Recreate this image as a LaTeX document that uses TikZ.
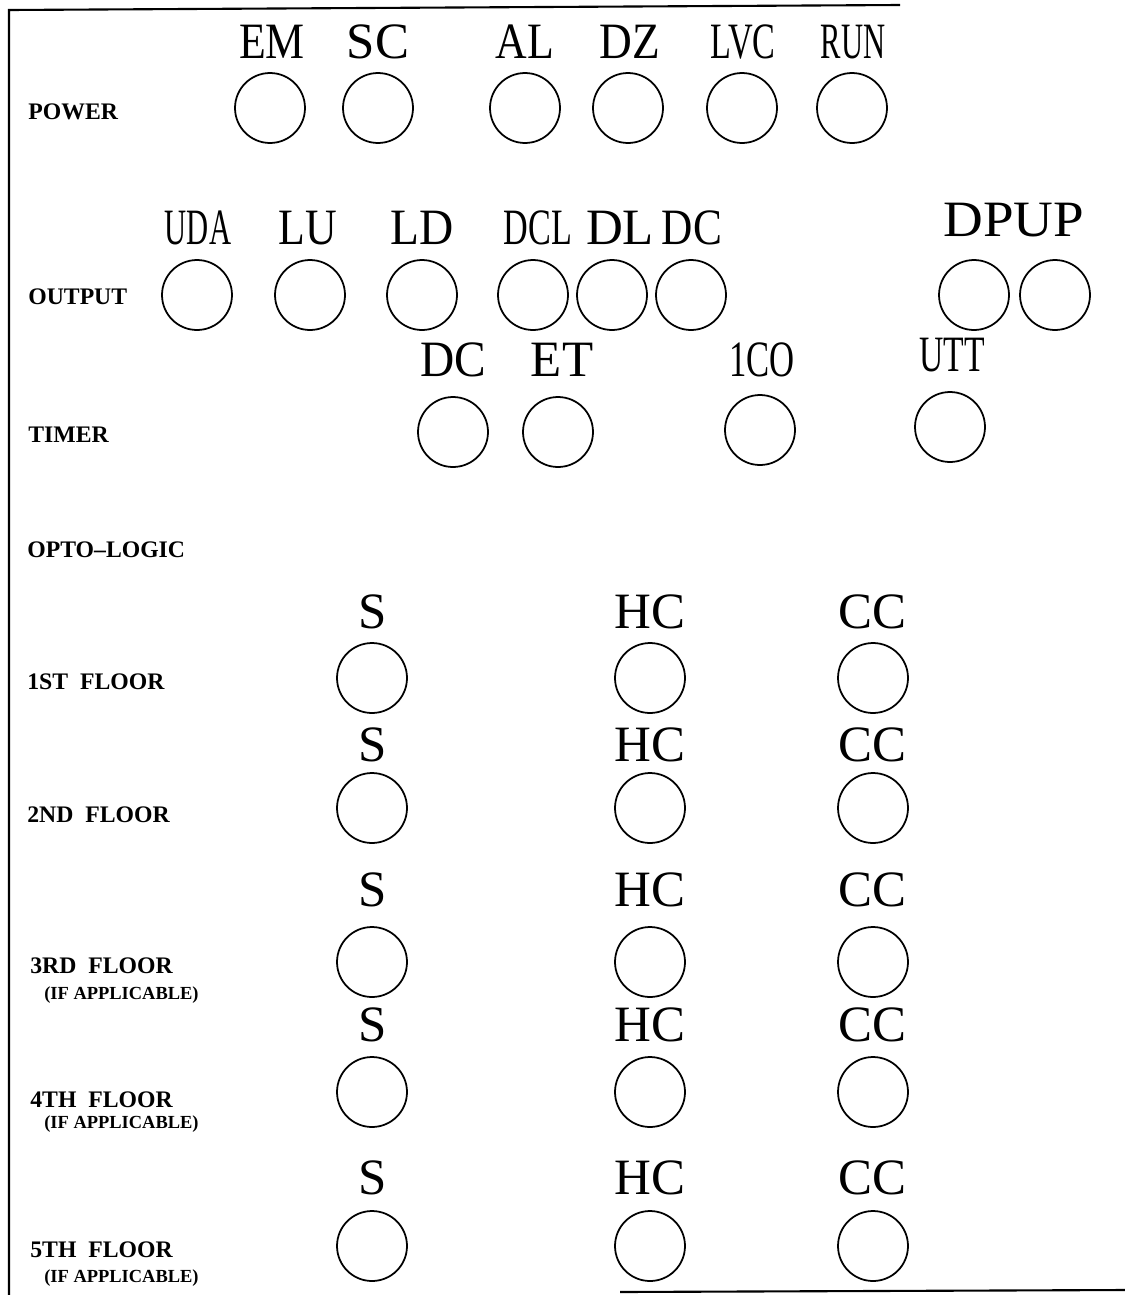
\documentclass[tikz,border=0pt]{standalone}
\usepackage{fontspec}
\setmainfont{Liberation Serif}
\usepackage{graphicx}
\begin{document}
\begin{tikzpicture}[x=0.02cm,y=-0.02cm,
  lamp/.style={draw, line width=1pt, circle, minimum size=1.4cm, inner sep=0pt},
  big/.style={inner sep=0pt, font=\fontsize{29}{30}\selectfont, text height=19.2pt, text depth=0pt},
  rowlbl/.style={inner sep=0pt, anchor=west, font=\bfseries\fontsize{13.5}{14}\selectfont, text height=9pt, text depth=0pt},
  sublbl/.style={inner sep=0pt, anchor=west, font=\bfseries\fontsize{10.5}{11}\selectfont, text height=7pt, text depth=0pt},
  frame/.style={line width=1.2pt}]
\useasboundingbox (0,0) rectangle (1125,1295);

% frame lines
\coordinate (tl) at (9,10);
\coordinate (tr) at (900,5);
\coordinate (bl) at (9,1295);
\coordinate (br1) at (620,1292);
\coordinate (br2) at (1125,1290);
\draw[frame] (bl) -- (tl) -- (tr);
\draw[frame] (br1) -- (br2);

% row labels
\node[rowlbl] (rpower) at (28,112) {POWER};
\node[rowlbl] (routput) at (28,297) {OUTPUT};
\node[rowlbl] (rtimer) at (28,435) {TIMER};
\node[rowlbl] (ropto) at (27,550) {OPTO--LOGIC};
\node[rowlbl] (rf1) at (27,682) {1ST\ \ FLOOR};
\node[rowlbl] (rf2) at (27,815) {2ND\ \ FLOOR};
\node[rowlbl] (rf3) at (30,966) {3RD\ \ FLOOR};
\node[sublbl] (rf3b) at (44,993) {(IF APPLICABLE)};
\node[rowlbl] (rf4) at (30,1100) {4TH\ \ FLOOR};
\node[sublbl] (rf4b) at (44,1122) {(IF APPLICABLE)};
\node[rowlbl] (rf5) at (30,1250) {5TH\ \ FLOOR};
\node[sublbl] (rf5b) at (44,1276) {(IF APPLICABLE)};

% power row
\foreach \n/\x/\lx/\s/\t in {em/270/272/0.86/EM, sc/378/378/1/SC, al/525/525/0.86/AL, dz/628/630/0.89/DZ, lvc/742/743/0.67/LVC, run/852/853/0.6/RUN}{
  \node[lamp] (p\n) at (\x,108) {};
  \node[big] (pl\n) at (\lx,42) {\scalebox{\s}[1]{\t}};
}

% output row
\foreach \n/\x/\lx/\s/\t in {uda/197/198/0.6/UDA, lu/310/308/0.86/LU, ld/422/422/0.93/LD, dcl/533/538/0.67/DCL, dl/612/620/1/DL, dc/691/692/0.85/DC}{
  \node[lamp] (o\n) at (\x,295) {};
  \node[big] (ol\n) at (\lx,228) {\scalebox{\s}[1]{\t}};
}
\node[lamp] (odp) at (974,295) {};
\node[lamp] (oup) at (1055,295) {};
\node[big] (oldpup) at (1014,220) {\scalebox{1.08}[1]{DPUP}};

% timer row
\foreach \n/\x/\y/\lx/\ly/\s/\t in {dc/453/432/453/360/0.93/DC, et/558/432/562/360/1/ET, co/760/430/762/360/0.68/1CO, utt/950/427/952/355/0.66/UTT}{
  \node[lamp] (t\n) at (\x,\y) {};
  \node[big] (tl\n) at (\lx,\ly) {\scalebox{\s}[1]{\t}};
}

% floors
\foreach \f/\ly/\cy in {1/612/678, 2/745/808, 3/890/962, 4/1025/1092, 5/1178/1246}{
  \node[lamp] (s\f) at (372,\cy) {};
  \node[lamp] (hc\f) at (650,\cy) {};
  \node[lamp] (cc\f) at (873,\cy) {};
  \node[big] (sl\f) at (373,\ly) {S};
  \node[big] (hcl\f) at (650,\ly) {HC};
  \node[big] (ccl\f) at (872,\ly) {CC};
}
\end{tikzpicture}
\end{document}
